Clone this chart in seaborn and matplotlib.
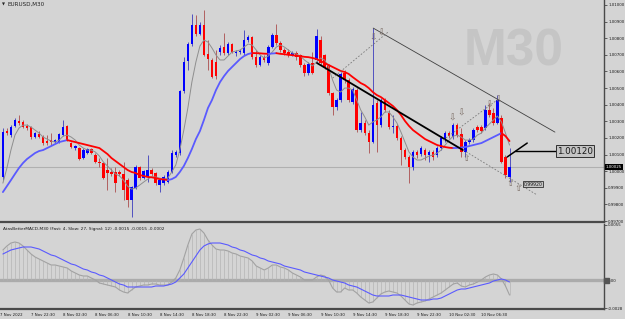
import numpy as np
import pandas as pd
import matplotlib
matplotlib.use("Agg")
import matplotlib.pyplot as plt
import matplotlib.transforms as mtransforms
import seaborn as sns

sns.set_theme(style="white")
plt.rcParams['font.family'] = ['DejaVu Sans']

BG = '#d4d4d4'

# ---------------- data (EURUSD M30) ----------------
open_ = [0.99965,1.00241,1.00217,1.00272,1.00302,1.00296,1.00272,1.00265,1.00205,1.00223,
         1.00205,1.00181,1.00187,1.00175,1.00175,1.00217,1.00272,1.00169,1.00139,1.00139,
         1.00079,1.00109,1.00133,1.00097,1.00055,1.00049,1.00007,0.99995,0.99995,0.99995,
         0.99983,0.99947,0.99826,0.99898,1.00025,0.99959,0.99965,1.00007,0.99989,0.99916,
         0.99928,0.99934,0.99995,1.00097,1.00109,1.00482,1.00663,1.00765,1.00880,1.00825,
         1.00880,1.00705,1.00669,1.00657,1.00717,1.00747,1.00711,1.00765,1.00711,1.00717,
         1.00711,1.00789,1.00807,1.00687,1.00639,1.00687,1.00651,1.00747,1.00819,1.00771,
         1.00729,1.00717,1.00699,1.00711,1.00699,1.00639,1.00591,1.00651,1.00669,1.00789,
         1.00699,1.00639,1.00470,1.00386,1.00428,1.00591,1.00548,1.00416,1.00488,1.00247,
         1.00290,1.00229,1.00175,1.00410,1.00278,1.00428,1.00350,1.00265,1.00272,1.00199,
         1.00127,1.00085,1.00025,1.00115,1.00103,1.00127,1.00097,1.00115,1.00097,1.00139,
         1.00187,1.00229,1.00205,1.00278,1.00223,1.00115,1.00175,1.00187,1.00265,1.00265,
         1.00259,1.00368,1.00350,1.00290,1.00320,1.00085,0.99965]
high = [1.00259,1.00259,1.00278,1.00320,1.00338,1.00308,1.00284,1.00272,1.00235,1.00241,
        1.00217,1.00217,1.00229,1.00193,1.00229,1.00308,1.00278,1.00175,1.00157,1.00145,
        1.00139,1.00139,1.00139,1.00109,1.00079,1.00055,1.00079,1.00019,1.00025,1.00007,
        1.00055,0.99959,0.99910,1.00037,1.00031,1.00007,1.00097,1.00019,0.99995,0.99959,
        0.99977,1.00007,1.00127,1.00127,1.00488,1.00687,1.00777,1.00946,1.00940,1.00898,
        1.00970,1.00789,1.00681,1.00729,1.00759,1.00831,1.00777,1.00771,1.00729,1.00735,
        1.00849,1.00819,1.00813,1.00729,1.00699,1.00699,1.00759,1.00831,1.00886,1.00783,
        1.00741,1.00735,1.00723,1.00723,1.00705,1.00651,1.00657,1.00717,1.00855,1.00813,
        1.00705,1.00645,1.00476,1.00440,1.00597,1.00609,1.00560,1.00506,1.00500,1.00356,
        1.00308,1.00247,1.00861,1.00428,1.00440,1.00440,1.00368,1.00338,1.00284,1.00211,
        1.00139,1.00097,1.00127,1.00127,1.00151,1.00139,1.00127,1.00127,1.00151,1.00211,
        1.00241,1.00241,1.00290,1.00290,1.00259,1.00187,1.00199,1.00259,1.00278,1.00278,
        1.00398,1.00410,1.00380,1.00458,1.00338,1.00097,1.00139]
low = [0.99947,1.00217,1.00205,1.00265,1.00278,1.00259,1.00247,1.00193,1.00199,1.00199,
       1.00157,1.00157,1.00157,1.00169,1.00169,1.00211,1.00181,1.00139,1.00127,1.00067,
       1.00073,1.00103,1.00103,1.00049,1.00025,0.99953,0.99886,0.99971,0.99874,0.99971,
       0.99826,0.99784,0.99724,0.99892,0.99947,0.99953,0.99934,0.99971,0.99916,0.99874,
       0.99916,0.99928,0.99989,1.00085,1.00097,1.00470,1.00609,1.00753,1.00813,1.00819,
       1.00693,1.00609,1.00560,1.00554,1.00699,1.00699,1.00699,1.00711,1.00693,1.00705,
       1.00699,1.00777,1.00675,1.00627,1.00633,1.00657,1.00639,1.00741,1.00759,1.00717,
       1.00699,1.00687,1.00693,1.00669,1.00627,1.00573,1.00579,1.00585,1.00657,1.00639,
       1.00615,1.00458,1.00338,1.00368,1.00416,1.00530,1.00416,1.00404,1.00235,1.00235,
       1.00217,1.00109,1.00169,1.00115,1.00265,1.00356,1.00253,1.00229,1.00187,1.00037,
       1.00073,0.99928,1.00007,1.00079,1.00091,1.00067,1.00055,1.00067,1.00085,1.00127,
       1.00175,1.00199,1.00193,1.00205,1.00085,1.00085,1.00163,1.00175,1.00235,1.00229,
       1.00247,1.00326,1.00278,1.00284,1.00049,0.99959,0.99934]
close = [1.00235,1.00229,1.00265,1.00308,1.00290,1.00265,1.00259,1.00205,1.00229,1.00205,
         1.00169,1.00169,1.00175,1.00187,1.00223,1.00265,1.00187,1.00145,1.00151,1.00073,
         1.00127,1.00133,1.00109,1.00055,1.00049,0.99959,0.99989,0.99983,0.99928,0.99983,
         0.99886,0.99826,0.99904,1.00025,0.99959,1.00001,1.00007,0.99983,0.99928,0.99947,
         0.99965,0.99995,1.00109,1.00115,1.00482,1.00657,1.00765,1.00880,1.00825,1.00880,
         1.00699,1.00675,1.00566,1.00573,1.00741,1.00711,1.00765,1.00717,1.00717,1.00723,
         1.00789,1.00807,1.00687,1.00639,1.00687,1.00669,1.00747,1.00819,1.00771,1.00729,
         1.00711,1.00699,1.00711,1.00687,1.00639,1.00591,1.00645,1.00591,1.00813,1.00651,
         1.00627,1.00470,1.00386,1.00428,1.00585,1.00548,1.00428,1.00494,1.00247,1.00290,
         1.00229,1.00175,1.00398,1.00278,1.00428,1.00368,1.00265,1.00272,1.00199,1.00127,
         1.00085,1.00025,1.00115,1.00097,1.00139,1.00097,1.00115,1.00085,1.00139,1.00199,
         1.00229,1.00211,1.00278,1.00217,1.00115,1.00175,1.00187,1.00247,1.00247,1.00241,
         1.00368,1.00338,1.00290,1.00428,1.00055,0.99977,1.00025]

ma_fast = [0.99928,1.00019,1.00127,1.00217,1.00259,1.00277,1.00277,1.00265,1.00247,1.00229,
           1.00205,1.00193,1.00181,1.00175,1.00187,1.00211,1.00217,1.00205,1.00187,1.00157,
           1.00139,1.00127,1.00127,1.00115,1.00091,1.00055,1.00031,1.00007,0.99983,0.99971,
           0.99946,0.99910,0.99892,0.99898,0.99916,0.99934,0.99952,0.99965,0.99965,0.99958,
           0.99952,0.99958,0.99995,1.00037,1.00127,1.00247,1.00380,1.00536,1.00657,1.00753,
           1.00789,1.00777,1.00741,1.00699,1.00669,1.00669,1.00693,1.00717,1.00723,1.00729,
           1.00747,1.00765,1.00759,1.00729,1.00699,1.00681,1.00693,1.00717,1.00747,1.00759,
           1.00747,1.00729,1.00711,1.00705,1.00693,1.00669,1.00651,1.00633,1.00657,1.00681,
           1.00669,1.00627,1.00548,1.00488,1.00476,1.00500,1.00500,1.00488,1.00428,1.00368,
           1.00326,1.00277,1.00296,1.00308,1.00326,1.00356,1.00356,1.00326,1.00290,1.00235,
           1.00175,1.00115,1.00085,1.00067,1.00067,1.00079,1.00091,1.00097,1.00109,1.00127,
           1.00157,1.00187,1.00211,1.00217,1.00205,1.00187,1.00187,1.00193,1.00217,1.00229,
           1.00259,1.00284,1.00308,1.00332,1.00296,1.00229,1.00157]
ma_slow = [0.99874,0.99910,0.99946,0.99983,1.00019,1.00049,1.00073,1.00091,1.00109,1.00121,
           1.00127,1.00139,1.00151,1.00163,1.00175,1.00181,1.00187,1.00181,1.00175,1.00169,
           1.00163,1.00157,1.00151,1.00145,1.00139,1.00121,1.00103,1.00079,1.00061,1.00043,
           1.00025,1.00007,0.99995,0.99989,0.99977,0.99971,0.99965,0.99963,0.99958,0.99952,
           0.99950,0.99946,0.99952,0.99965,0.99995,1.00031,1.00079,1.00133,1.00193,1.00241,
           1.00308,1.00380,1.00428,1.00488,1.00536,1.00572,1.00603,1.00627,1.00651,1.00675,
           1.00693,1.00705,1.00711,1.00710,1.00709,1.00707,1.00706,1.00708,1.00710,1.00706,
           1.00704,1.00700,1.00698,1.00694,1.00692,1.00688,1.00686,1.00681,1.00675,1.00663,
           1.00651,1.00639,1.00627,1.00615,1.00603,1.00597,1.00585,1.00566,1.00548,1.00530,
           1.00518,1.00500,1.00476,1.00458,1.00446,1.00428,1.00410,1.00392,1.00368,1.00338,
           1.00302,1.00272,1.00247,1.00229,1.00211,1.00193,1.00181,1.00169,1.00157,1.00151,
           1.00145,1.00141,1.00139,1.00140,1.00142,1.00145,1.00151,1.00157,1.00163,1.00169,
           1.00181,1.00193,1.00205,1.00217,1.00229,1.00211,1.00181]

macd = [0.0030,0.0034,0.0037,0.0038,0.0037,0.0034,0.0030,0.0026,0.0023,0.0021,
        0.0019,0.0017,0.0015,0.0015,0.0014,0.0013,0.0012,0.0009,0.0007,0.0005,
        0.0004,0.0004,0.0002,0.0000,-0.0003,-0.0004,-0.0005,-0.0006,-0.0007,-0.0010,
        -0.0012,-0.0013,-0.0010,-0.0007,-0.0006,-0.0005,-0.0005,-0.0004,-0.0004,-0.0005,
        -0.0005,-0.0005,-0.0002,0.0002,0.0010,0.0022,0.0035,0.0046,0.0050,0.0051,
        0.0047,0.0040,0.0035,0.0031,0.0030,0.0030,0.0029,0.0027,0.0026,0.0024,
        0.0023,0.0022,0.0019,0.0014,0.0012,0.0010,0.0012,0.0015,0.0015,0.0013,
        0.0012,0.0010,0.0007,0.0005,0.0003,0.0000,0.0000,0.0000,0.0003,0.0005,
        0.0004,0.0000,-0.0008,-0.0012,-0.0012,-0.0008,-0.0010,-0.0010,-0.0013,-0.0017,
        -0.0020,-0.0023,-0.0022,-0.0018,-0.0014,-0.0012,-0.0011,-0.0012,-0.0013,-0.0016,
        -0.0020,-0.0024,-0.0025,-0.0023,-0.0022,-0.0021,-0.0019,-0.0017,-0.0015,-0.0013,
        -0.0010,-0.0007,-0.0004,-0.0003,-0.0006,-0.0007,-0.0005,-0.0004,-0.0002,0.0000,
        0.0003,0.0005,0.0006,0.0005,0.0001,-0.0006,-0.0015]
signal = [0.0026,0.0028,0.0030,0.0031,0.0032,0.0033,0.0033,0.0033,0.0032,0.0031,
          0.0029,0.0027,0.0025,0.0024,0.0022,0.0020,0.0018,0.0016,0.0015,0.0013,
          0.0011,0.0010,0.0008,0.0007,0.0005,0.0004,0.0002,0.0000,-0.0002,-0.0004,
          -0.0005,-0.0007,-0.0007,-0.0007,-0.0007,-0.0007,-0.0007,-0.0007,-0.0006,-0.0006,
          -0.0006,-0.0005,-0.0004,-0.0002,0.0002,0.0006,0.0012,0.0018,0.0024,0.0030,
          0.0034,0.0036,0.0037,0.0037,0.0037,0.0036,0.0035,0.0033,0.0032,0.0030,
          0.0029,0.0027,0.0025,0.0024,0.0022,0.0021,0.0019,0.0018,0.0017,0.0016,
          0.0014,0.0013,0.0012,0.0011,0.0010,0.0008,0.0007,0.0006,0.0005,0.0004,
          0.0003,0.0002,0.0000,-0.0001,-0.0002,-0.0003,-0.0005,-0.0006,-0.0007,-0.0009,
          -0.0011,-0.0013,-0.0015,-0.0016,-0.0016,-0.0016,-0.0016,-0.0015,-0.0015,-0.0015,
          -0.0016,-0.0017,-0.0018,-0.0019,-0.0020,-0.0020,-0.0020,-0.0019,-0.0019,-0.0018,
          -0.0016,-0.0014,-0.0012,-0.0010,-0.0009,-0.0009,-0.0008,-0.0007,-0.0006,-0.0005,
          -0.0004,-0.0003,-0.0001,0.0000,0.0001,0.0000,-0.0002]

date_labels = ['7 Nov 2022', '7 Nov 22:30', '8 Nov 02:30', '8 Nov 06:30', '8 Nov 10:30',
               '8 Nov 14:30', '8 Nov 18:30', '8 Nov 22:30', '9 Nov 02:30', '9 Nov 06:30',
               '9 Nov 10:30', '9 Nov 14:30', '9 Nov 18:30', '9 Nov 22:30', '10 Nov 02:30',
               '10 Nov 06:30']
date_bars = [-0.72, 7, 15, 23, 31, 39, 47, 55, 63, 71, 79, 87, 95, 103, 111, 119]

price_ticks = [0.997, 0.998, 0.999, 1.000, 1.001, 1.002, 1.003, 1.004, 1.005,
               1.006, 1.007, 1.008, 1.009, 1.010]
macd_ticks = [0.0055, 0.0, -0.0028]
macd_tick_labels = ['0.0055', '0.00', '-0.0028']

current_price = 1.00025
current_label = '1.00025'

# drawn objects (bar index, price)
trend_black = ([78.1, 114.4], [1.00651, 1.00127])
trend_black2 = ([125.4, 130.4], [1.00085, 1.00169])
level_line = ([127.4, 137.8], [1.00120, 1.00120])
channel_line = ([92.1, 137.3], [1.00861, 1.00235])
dashed_lines = [([82.0, 95.8], [1.00560, 1.00837]),
                ([109.5, 122.9], [1.00187, 1.00428]),
                ([114.5, 132.9], [1.00127, 0.99856])]
arrow_dn_x = [92.1, 94.1, 111.7, 114.0, 120.9, 123.2]
arrow_dn_y = [1.00801, 1.00831, 1.00320, 1.00350, 1.00398, 1.00428]
arrow_up_x = [115.2, 126.1, 128.1]
arrow_up_y = [1.00079, 0.99928, 0.99898]
label_big = (137.8, 1.00120, '1.00120')
label_small = (129.6, 0.99922, '0.99920')

# ---------------- figure ----------------
W, H = 625, 319
SMALL = 2.9
fig = plt.figure(figsize=(W / 100, H / 100), dpi=100, facecolor=BG)


def px_axes(x0, y0, x1, y1):
    return fig.add_axes([x0 / W, 1 - y1 / H, (x1 - x0) / W, (y1 - y0) / H])


ax = px_axes(0, 0, 604, 222)
axm = px_axes(0, 224, 604, 309)
XLIM = (-0.72, 149.5)
for a in (ax, axm):
    a.set_facecolor(BG)
    a.set_xlim(*XLIM)
    for s in ('top', 'left'):
        a.spines[s].set_visible(False)
    a.spines['right'].set_color('#4a4a4a')
    a.spines['right'].set_linewidth(1.0)
    a.spines['bottom'].set_color('#4a4a4a')
    a.spines['bottom'].set_linewidth(1.6)
    a.yaxis.tick_right()
    a.tick_params(axis='y', which='both', direction='out', length=2, width=0.6,
                  colors='#4a4a4a', labelsize=SMALL, labelcolor='#1a1a1a', pad=1.0)

ax.set_ylim(0.99694, 1.01030)
axm.set_ylim(-0.0029, 0.0056)

idx = np.arange(len(close))
df = pd.DataFrame({'bar': idx, 'open': open_, 'high': high, 'low': low, 'close': close,
                   'fast': ma_fast, 'slow': ma_slow, 'macd': macd, 'signal': signal})

# watermark
ax.text(514 / 604, 1 - 52 / 222, 'M30', transform=ax.transAxes, ha='center', va='center',
        fontsize=37, fontweight='bold', color='#c5c5c5', family='Liberation Sans', zorder=0)

# current price line
ax.axhline(current_price, color='#b0b0b0', lw=0.8, zorder=1)

# candles
bull = df['close'] >= df['open']
for is_bull, col, wcol in ((True, '#0000ff', '#5050c0'), (False, '#ff0000', '#b06060')):
    d = df[bull == is_bull]
    ax.vlines(d['bar'], d['low'], d['high'], color=wcol, lw=0.7, zorder=3)
    body_lo = np.minimum(d['open'], d['close'])
    body_h = np.maximum(np.abs(d['close'] - d['open']), 0.00004)
    ax.bar(d['bar'], body_h, bottom=body_lo, width=0.62, color=col, linewidth=0, zorder=4)

# moving averages
sns.lineplot(data=df, x='bar', y='fast', ax=ax, color='#8e8e8e', lw=0.7, zorder=5,
             estimator=None, legend=False)
falling = np.r_[False, np.diff(df['slow']) < 0]
runs = []
start = 0
for i in range(2, len(df)):
    if falling[i] != falling[i - 1]:
        runs.append((start, i - 1, falling[i - 1]))
        start = i - 1
runs.append((start, len(df) - 1, falling[len(df) - 1]))
for s, e, r in runs:
    seg = df.iloc[s:e + 1]
    sns.lineplot(data=seg, x='bar', y='slow', ax=ax, color='#ff0000' if r else '#5a5aff',
                 lw=1.3, zorder=6, estimator=None, legend=False)

# drawings
ax.plot(*trend_black, color='#000000', lw=1.3, zorder=7)
ax.plot(*trend_black2, color='#000000', lw=1.1, zorder=7)
ax.plot(*level_line, color='#000000', lw=1.0, zorder=7)
ax.plot(*channel_line, color='#404040', lw=0.6, zorder=7)
for xs, ys in dashed_lines:
    ax.plot(xs, ys, color='#7a7a7a', lw=0.6, ls=(0, (2, 2)), zorder=7)
for x, y in zip(arrow_dn_x, arrow_dn_y):
    ax.text(x, y, '\u21e9', fontsize=6.5, color='#7a6c64', ha='center', va='center', zorder=8)
for x, y in zip(arrow_up_x, arrow_up_y):
    ax.text(x, y, '\u21e7', fontsize=6.5, color='#7a6c64', ha='center', va='center', zorder=8)
ax.text(label_big[0], label_big[1], label_big[2], fontsize=6.3, color='#1a1a1a',
        ha='left', va='center', zorder=9,
        bbox=dict(boxstyle='square,pad=0.15', fc='#c4c4c4', ec='#303030', lw=0.7))
ax.text(label_small[0], label_small[1], label_small[2], fontsize=3.3, color='#1a1a1a',
        ha='left', va='center', zorder=9,
        bbox=dict(boxstyle='square,pad=0.12', fc='#c4c4c4', ec='#303030', lw=0.6))

# price axis
ax.set_yticks(price_ticks)
ax.set_yticklabels([f'{t:.5f}' for t in price_ticks])
ax.set_xticks([])
ax.set_xlabel('')
ax.set_ylabel('')
trans = mtransforms.blended_transform_factory(ax.transAxes, ax.transData)
ax.text(1.003, current_price, current_label, transform=trans, fontsize=SMALL, color='white',
        ha='left', va='center', zorder=10, clip_on=False,
        bbox=dict(boxstyle='square,pad=0.15', fc='#000000', ec='#000000', lw=0))

# title
fig.text(2 / W, 1 - 4 / H, '\u25bc', fontsize=2.8, color='#222222', ha='left', va='center')
fig.text(7 / W, 1 - 4 / H, 'EURUSD,M30', fontsize=4.1, color='#222222',
         ha='left', va='center')

# ---------------- MACD panel ----------------
axm.axhline(0, color='#ababab', lw=2.4, zorder=1)
axm.vlines(df['bar'], 0, df['macd'], color='#b2b2b2', lw=0.45, zorder=2)
sns.lineplot(data=df, x='bar', y='macd', ax=axm, color='#a2a2a2', lw=0.8, zorder=3,
             estimator=None, legend=False)
sns.lineplot(data=df, x='bar', y='signal', ax=axm, color='#5a5aff', lw=0.8, zorder=4,
             estimator=None, legend=False)
axm.set_yticks(macd_ticks)
axm.set_yticklabels(macd_tick_labels)
axm.set_xlabel('')
axm.set_ylabel('')
axm.set_xticks(date_bars)
axm.set_xticklabels(date_labels, ha='left')
axm.tick_params(axis='x', direction='out', length=2, width=0.6, colors='#4a4a4a',
                labelsize=2.8, labelcolor='#1a1a1a', pad=1.2)
axm.text(3 / 604, 1 - 5 / 85,
         'AtasBetterMACD-M30 (Fast: 4, Slow: 27, Signal: 12) -0.0015 -0.0015 -0.0002',
         transform=axm.transAxes, fontsize=3.1, color='#1a1a1a', ha='left', va='center')
transm = mtransforms.blended_transform_factory(axm.transAxes, axm.transData)
axm.add_patch(plt.Rectangle((1.0, -0.00025), 0.008, 0.0005, transform=transm,
                            color='#555555', clip_on=False, zorder=5))

fig.savefig('out.png', dpi=100, facecolor=BG)
